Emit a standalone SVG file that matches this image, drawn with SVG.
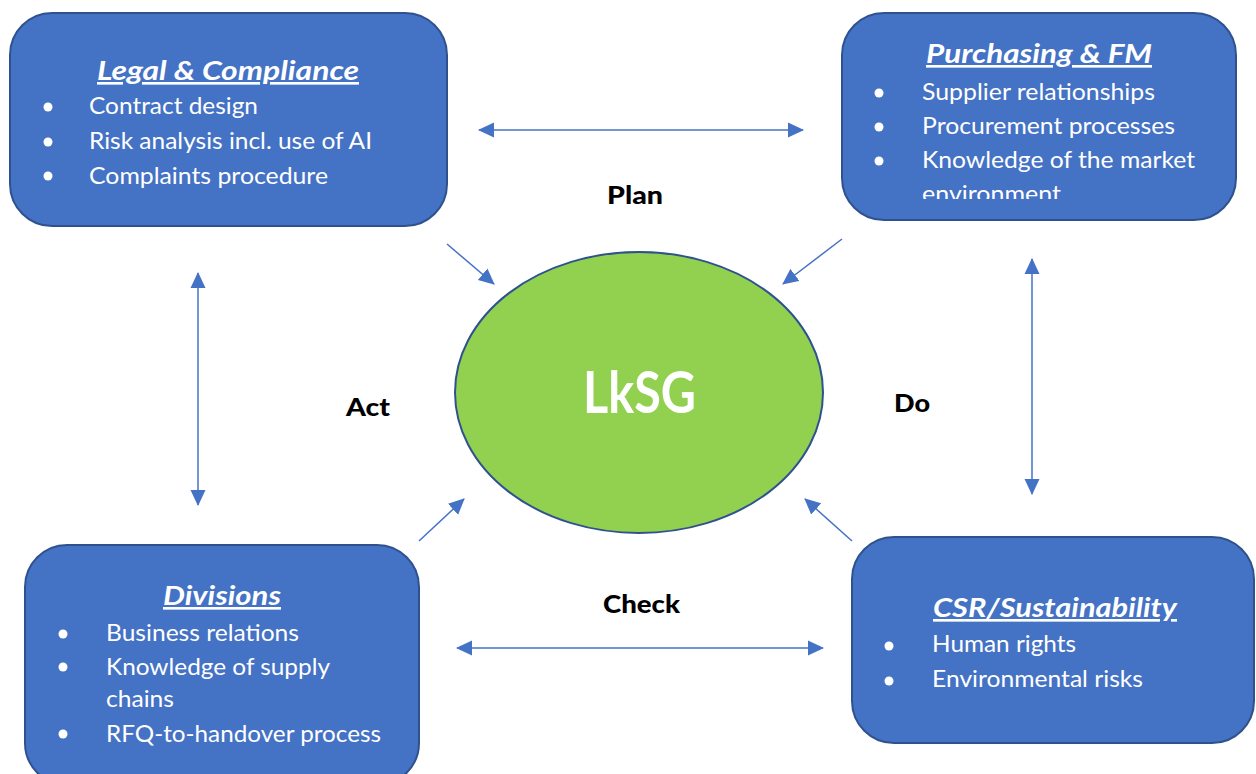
<svg xmlns="http://www.w3.org/2000/svg" width="1256" height="774" viewBox="0 0 1256 774">
<style>
.box{fill:#4472C4;stroke:#2F528F;stroke-width:2}
.ttl{font-family:Lato,"Liberation Sans",sans-serif;font-weight:bold;font-style:italic;font-size:26.5px;fill:#fff;text-decoration:underline}
.itm{font-family:Lato,"Liberation Sans",sans-serif;font-size:24px;fill:#fff}
.bul{fill:#fff}
.lbl{font-family:Lato,"Liberation Sans",sans-serif;font-weight:900;font-size:25.5px;fill:#000}
.con{stroke:#4472C4;stroke-width:1.5;fill:none}
</style>
<defs>
<marker id="ah" markerUnits="userSpaceOnUse" markerWidth="16" markerHeight="16" viewBox="0 0 16 16" refX="15" refY="8" orient="auto-start-reverse">
<path d="M0,0.5 L16,8 L0,15.5 Z" fill="#4472C4"/>
</marker>
<clipPath id="pclip"><rect x="842" y="13" width="394" height="186"/></clipPath>
</defs>

<g id="connectors">
<line class="con" x1="479" y1="130" x2="803" y2="130" marker-start="url(#ah)" marker-end="url(#ah)"/>
<line class="con" x1="457" y1="648" x2="823" y2="648" marker-start="url(#ah)" marker-end="url(#ah)"/>
<line class="con" x1="198" y1="273" x2="198" y2="505" marker-start="url(#ah)" marker-end="url(#ah)"/>
<line class="con" x1="1032" y1="259" x2="1032" y2="494" marker-start="url(#ah)" marker-end="url(#ah)"/>
<line class="con" x1="447" y1="244" x2="494" y2="284" marker-end="url(#ah)"/>
<line class="con" x1="842" y1="239" x2="783" y2="284" marker-end="url(#ah)"/>
<line class="con" x1="419" y1="541" x2="464" y2="499" marker-end="url(#ah)"/>
<line class="con" x1="852" y1="541" x2="805" y2="499" marker-end="url(#ah)"/>
</g>

<g id="legal">
<rect class="box" x="10" y="13" width="437" height="213" rx="42" ry="42"/>
<text class="ttl" x="97" y="80" textLength="262" lengthAdjust="spacingAndGlyphs">Legal &amp; Compliance</text>
<circle class="bul" cx="48" cy="107" r="4.5"/>
<circle class="bul" cx="48" cy="142" r="4.5"/>
<circle class="bul" cx="48" cy="176" r="4.5"/>
<text class="itm" x="89" y="114" textLength="169" lengthAdjust="spacingAndGlyphs">Contract design</text>
<text class="itm" x="89" y="149" textLength="283" lengthAdjust="spacingAndGlyphs">Risk analysis incl. use of AI</text>
<text class="itm" x="89" y="184" textLength="239" lengthAdjust="spacingAndGlyphs">Complaints procedure</text>
</g>

<g id="purchasing">
<rect class="box" x="842" y="13" width="394" height="207" rx="42" ry="42"/>
<text class="ttl" x="926" y="63" textLength="226" lengthAdjust="spacingAndGlyphs">Purchasing &amp; FM</text>
<circle class="bul" cx="879" cy="93" r="4.5"/>
<circle class="bul" cx="879" cy="127" r="4.5"/>
<circle class="bul" cx="879" cy="161" r="4.5"/>
<text class="itm" x="922" y="100" textLength="233" lengthAdjust="spacingAndGlyphs">Supplier relationships</text>
<text class="itm" x="922" y="134" textLength="253" lengthAdjust="spacingAndGlyphs">Procurement processes</text>
<text class="itm" x="922" y="168" textLength="273" lengthAdjust="spacingAndGlyphs">Knowledge of the market</text>
<g clip-path="url(#pclip)">
<text class="itm" x="922" y="202" textLength="139" lengthAdjust="spacingAndGlyphs">environment</text>
</g>
</g>

<g id="divisions">
<rect class="box" x="25" y="545" width="394" height="240" rx="42" ry="42"/>
<text class="ttl" x="163" y="605" textLength="118" lengthAdjust="spacingAndGlyphs">Divisions</text>
<circle class="bul" cx="63" cy="634" r="4.5"/>
<circle class="bul" cx="63" cy="667" r="4.5"/>
<circle class="bul" cx="63" cy="734" r="4.5"/>
<text class="itm" x="106" y="641" textLength="193" lengthAdjust="spacingAndGlyphs">Business relations</text>
<text class="itm" x="106" y="675" textLength="224" lengthAdjust="spacingAndGlyphs">Knowledge of supply</text>
<text class="itm" x="106" y="707" textLength="68" lengthAdjust="spacingAndGlyphs">chains</text>
<text class="itm" x="106" y="742" textLength="275" lengthAdjust="spacingAndGlyphs">RFQ-to-handover process</text>
</g>

<g id="csr">
<rect class="box" x="852" y="537" width="402" height="206" rx="42" ry="42"/>
<text class="ttl" x="933" y="617" textLength="244" lengthAdjust="spacingAndGlyphs">CSR/Sustainability</text>
<circle class="bul" cx="889" cy="646" r="4.5"/>
<circle class="bul" cx="889" cy="681" r="4.5"/>
<text class="itm" x="932" y="652" textLength="144" lengthAdjust="spacingAndGlyphs">Human rights</text>
<text class="itm" x="932" y="687" textLength="211" lengthAdjust="spacingAndGlyphs">Environmental risks</text>
</g>

<g id="lksg">
<ellipse cx="639" cy="392.5" rx="184" ry="140.5" fill="#92D050" stroke="#2F528F" stroke-width="2"/>
<text x="583" y="413" textLength="113" lengthAdjust="spacingAndGlyphs" font-family="Lato,'Liberation Sans',sans-serif" font-weight="bold" font-size="57" fill="#fff">LkSG</text>
</g>

<g id="labels">
<text class="lbl" x="607" y="204" textLength="56" lengthAdjust="spacingAndGlyphs">Plan</text>
<text class="lbl" x="346" y="416" textLength="44" lengthAdjust="spacingAndGlyphs">Act</text>
<text class="lbl" x="894" y="412" textLength="36" lengthAdjust="spacingAndGlyphs">Do</text>
<text class="lbl" x="603" y="613" textLength="77" lengthAdjust="spacingAndGlyphs">Check</text>
</g>
</svg>
